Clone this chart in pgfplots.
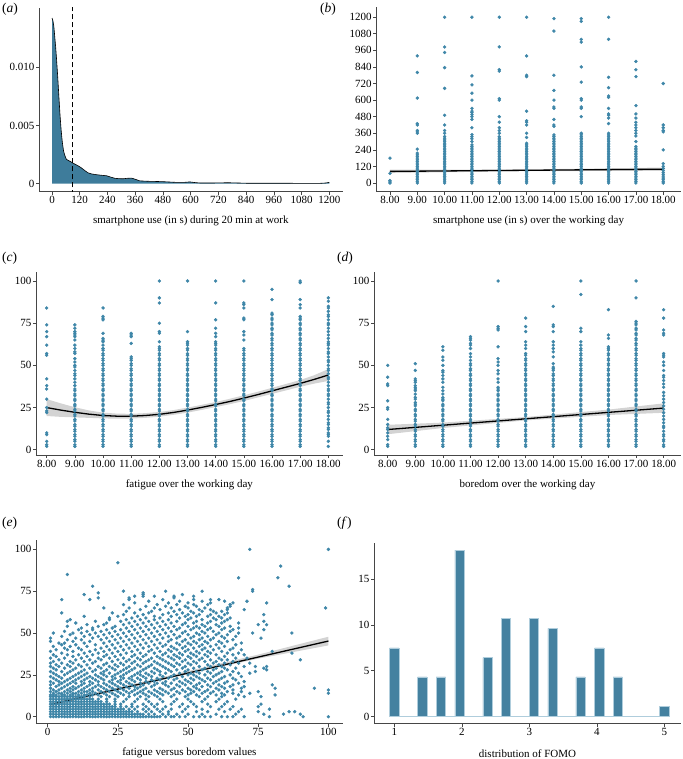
\documentclass[border=0pt]{standalone}
\usepackage{fontspec}
\setmainfont{Liberation Serif}
\usepackage{pgfplots}
\pgfplotsset{compat=1.18}

\definecolor{ptc}{RGB}{62,134,168}
\definecolor{densc}{RGB}{62,124,155}
\definecolor{barc}{RGB}{68,129,160}
\definecolor{barl}{RGB}{175,205,220}
\definecolor{axc}{RGB}{70,70,70}

\pgfplotsset{
  panel/.style={
    scale only axis, anchor=south west,
    axis x line*=bottom, axis y line*=left,
    axis line style={-, axc, line width=0.8pt},
    tick align=outside, major tick length=3pt,
    tick style={axc, line width=0.6pt},
    tick label style={font=\fontsize{11}{13}\selectfont, inner sep=1.5pt},
    label style={font=\fontsize{11}{13}\selectfont},
    xlabel style={at={(axis description cs:0.5,0)}, anchor=center, yshift=-29.5pt},
    /pgf/number format/assume math mode=true,
    /pgf/number format/1000 sep={},
    scaled ticks=false,
  },
  pts/.style={only marks, mark=*, mark size=1.5pt, color=ptc, mark options={draw=none, fill=ptc}},
  band/.style={fill=gray, fill opacity=0.35, draw=none},
  fit/.style={black, line width=1.3pt, no marks},
}
\newcommand\colpts[2]{\addplot[pts] table[x expr=#1, y index=0, header=false, row sep=\\]{#2\\};}
\newcommand\rowpts[2]{\addplot[pts] table[y expr=#1, x index=0, header=false, row sep=\\]{#2\\};}

\begin{document}
\begin{tikzpicture}
\path[use as bounding box] (0,0) rectangle (682pt,-759pt);

% (a) density
\begin{axis}[panel, at={(39pt,-191.7pt)}, width=303.7pt, height=183.7pt,
  xmin=-56.3, xmax=1258, ymin=-0.00069, ymax=0.01509,
  xtick={0,120,...,1200}, ytick={0,0.005,0.01}, yticklabels={0,0.005,0.010},
  xlabel={smartphone use (in s) during 20 min at work}]
\addplot[fill=densc, draw=none] coordinates {(0,0.01423)(4,0.0140)(8,0.0135)(12,0.0126)(16,0.0117)(20,0.0106)(25,0.0091)(30,0.0074)(35,0.0058)(40,0.0045)(45,0.0035)(50,0.0028)(56,0.0024)(62,0.0021)(70,0.0020)(80,0.0019)(91,0.00176)(102,0.00165)(113,0.00153)(124,0.0014)(134,0.00125)(145,0.00108)(156,0.00093)(170,0.00084)(192,0.00077)(215,0.00072)(236,0.00068)(255,0.00056)(272,0.00046)(290,0.00043)(308,0.00042)(325,0.00046)(344,0.00048)(360,0.00038)(380,0.00024)(400,0.00022)(424,0.00020)(450,0.00019)(481,0.00017)(510,0.00014)(539,0.00011)(570,0.00011)(597,0.00015)(620,0.00009)(640,0.00006)(700,0.00006)(760,0.00008)(785,0.00007)(840,0.00004)(900,0.00004)(960,0.00004)(1020,0.00004)(1074,0.00002)(1120,0.00003)(1160,0.00003)(1185,0.00006)(1200,0.00011)} \closedcycle;
\addplot[black, line width=0.6pt] coordinates {(0,0.01423)(4,0.0140)(8,0.0135)(12,0.0126)(16,0.0117)(20,0.0106)(25,0.0091)(30,0.0074)(35,0.0058)(40,0.0045)(45,0.0035)(50,0.0028)(56,0.0024)(62,0.0021)(70,0.0020)(80,0.0019)(91,0.00176)(102,0.00165)(113,0.00153)(124,0.0014)(134,0.00125)(145,0.00108)(156,0.00093)(170,0.00084)(192,0.00077)(215,0.00072)(236,0.00068)(255,0.00056)(272,0.00046)(290,0.00043)(308,0.00042)(325,0.00046)(344,0.00048)(360,0.00038)(380,0.00024)(400,0.00022)(424,0.00020)(450,0.00019)(481,0.00017)(510,0.00014)(539,0.00011)(570,0.00011)(597,0.00015)(620,0.00009)(640,0.00006)(700,0.00006)(760,0.00008)(785,0.00007)(840,0.00004)(900,0.00004)(960,0.00004)(1020,0.00004)(1074,0.00002)(1120,0.00003)(1160,0.00003)(1185,0.00006)(1200,0.00011)};
\addplot[black, line width=1.3pt, dash pattern=on 5pt off 3pt] coordinates {(90,-0.001)(90,0.016)};
\end{axis}

% (b) smartphone use over the day
\begin{axis}[panel, at={(376.3pt,-191.7pt)}, width=304.7pt, height=184.7pt,
  xmin=7.5, xmax=18.65, ymin=-63, ymax=1274,
  xtick={8,...,18}, xticklabels={8.00,9.00,10.00,11.00,12.00,13.00,14.00,15.00,16.00,17.00,18.00},
  ytick={0,120,...,1200},
  xlabel={smartphone use (in s) over the working day}]
\colpts{8}{0\\8\\18\\70\\180}
\colpts{9}{0\\12\\24\\36\\48\\60\\72\\84\\96\\108\\120\\132\\144\\156\\168\\180\\192\\204\\216\\245\\360\\370\\380\\420\\430\\615\\800\\920}
\colpts{10}{0\\12\\24\\36\\48\\60\\72\\84\\96\\108\\120\\132\\144\\156\\168\\180\\192\\204\\216\\228\\240\\252\\264\\276\\288\\300\\312\\324\\336\\360\\380\\420\\490\\685\\835\\945\\985\\1200}
\colpts{11}{0\\12\\24\\36\\48\\60\\72\\84\\96\\108\\120\\132\\144\\156\\168\\180\\192\\204\\216\\228\\240\\252\\264\\276\\300\\320\\335\\350\\400\\460\\480\\495\\510\\520\\540\\600\\650\\710\\775\\1200}
\colpts{12}{0\\12\\24\\36\\48\\60\\72\\84\\96\\108\\120\\132\\144\\156\\168\\180\\192\\204\\216\\228\\240\\252\\264\\276\\288\\300\\312\\324\\336\\360\\380\\400\\440\\480\\600\\610\\810\\820\\985\\1200}
\colpts{13}{0\\12\\24\\36\\48\\60\\72\\84\\96\\108\\120\\132\\144\\156\\168\\180\\192\\204\\216\\228\\240\\252\\264\\276\\288\\330\\360\\420\\440\\450\\520\\770\\780\\920\\1200}
\colpts{14}{0\\12\\24\\36\\48\\60\\72\\84\\96\\108\\120\\132\\144\\156\\168\\180\\192\\204\\216\\228\\240\\252\\264\\276\\288\\300\\312\\324\\336\\348\\410\\420\\460\\540\\550\\600\\670\\780\\1100\\1190}
\colpts{15}{0\\12\\24\\36\\48\\60\\72\\84\\96\\108\\120\\132\\144\\156\\168\\180\\192\\204\\216\\228\\240\\252\\264\\276\\288\\300\\312\\324\\336\\348\\360\\480\\540\\550\\600\\610\\730\\840\\1020\\1040\\1170\\1190}
\colpts{16}{0\\12\\24\\36\\48\\60\\72\\84\\96\\108\\120\\132\\144\\156\\168\\180\\192\\204\\216\\228\\240\\252\\264\\276\\288\\300\\312\\324\\336\\348\\360\\430\\470\\490\\500\\540\\620\\630\\690\\765\\1040\\1200}
\colpts{17}{0\\12\\24\\36\\48\\60\\72\\84\\96\\108\\120\\132\\144\\156\\168\\180\\192\\204\\216\\228\\240\\252\\264\\300\\340\\360\\380\\400\\420\\440\\470\\500\\560\\770\\820\\880}
\colpts{18}{0\\12\\24\\36\\50\\62\\75\\90\\105\\120\\140\\240\\370\\380\\400\\420\\720}
\addplot[band] coordinates {(8,96)(13,98)(18,112)(18,88)(13,86)(8,72)};
\addplot[fit] coordinates {(8,84)(18,100)};
\end{axis}

% (c) fatigue over the day
\begin{axis}[panel, at={(36pt,-455pt)}, width=306.7pt, height=183.3pt,
  xmin=7.62, xmax=18.51, ymin=-3.1, ymax=105.5,
  xtick={8,...,18}, xticklabels={8.00,9.00,10.00,11.00,12.00,13.00,14.00,15.00,16.00,17.00,18.00},
  ytick={0,25,50,75,100},
  xlabel={fatigue over the working day}]
\colpts{8}{2\\3\\5\\9\\10\\22\\23\\25\\30\\36\\38\\42\\56\\57\\62\\67\\70\\74\\84}
\colpts{9}{2\\3\\5\\6\\8\\9\\11\\12\\14\\15\\17\\18\\20\\21\\23\\24\\26\\27\\29\\30\\32\\33\\35\\36\\38\\40\\42\\44\\45\\47\\49\\50\\52\\54\\57\\58\\60\\62\\65\\67\\68\\69\\70\\72\\74}
\colpts{10}{2\\3\\5\\6\\8\\9\\11\\12\\14\\15\\17\\18\\20\\21\\23\\24\\26\\27\\29\\30\\32\\33\\35\\36\\38\\39\\41\\42\\44\\45\\47\\48\\50\\51\\53\\54\\56\\57\\59\\60\\62\\64\\65\\66\\69\\77\\78\\79\\84}
\colpts{11}{2\\3\\5\\6\\8\\9\\11\\12\\14\\15\\17\\18\\20\\21\\23\\24\\26\\27\\29\\30\\32\\33\\35\\36\\38\\39\\41\\42\\44\\45\\47\\48\\50\\51\\53\\54\\55\\63\\67\\68\\69}
\colpts{12}{2\\3\\5\\6\\8\\9\\11\\12\\14\\15\\17\\18\\20\\21\\23\\24\\26\\27\\29\\30\\32\\33\\35\\36\\38\\39\\41\\42\\44\\45\\47\\48\\50\\51\\53\\54\\56\\57\\59\\60\\61\\64\\69\\70\\75\\87\\90\\100}
\colpts{13}{2\\3\\5\\6\\8\\9\\11\\12\\14\\15\\17\\18\\20\\21\\23\\24\\26\\27\\29\\30\\32\\33\\35\\36\\38\\39\\41\\42\\44\\45\\47\\48\\50\\51\\53\\54\\56\\57\\59\\60\\62\\63\\64\\70\\100}
\colpts{14}{2\\3\\5\\6\\8\\9\\11\\12\\14\\15\\17\\18\\20\\21\\23\\24\\26\\27\\29\\30\\32\\33\\35\\36\\38\\39\\41\\42\\44\\45\\47\\48\\50\\51\\53\\54\\56\\57\\59\\60\\62\\63\\64\\67\\69\\72\\77\\87\\100}
\colpts{15}{2\\3\\5\\6\\8\\9\\11\\12\\14\\15\\17\\18\\20\\21\\23\\24\\26\\27\\29\\30\\32\\33\\35\\36\\38\\39\\41\\42\\44\\45\\47\\48\\50\\51\\53\\54\\56\\57\\59\\60\\65\\68\\70\\77\\78\\84\\86\\87\\100}
\colpts{16}{2\\3\\5\\6\\8\\9\\11\\12\\14\\15\\17\\18\\20\\21\\23\\24\\26\\27\\29\\30\\32\\33\\35\\36\\38\\39\\41\\42\\44\\45\\47\\48\\50\\51\\53\\54\\56\\57\\59\\60\\62\\63\\65\\66\\68\\69\\71\\72\\74\\75\\77\\78\\80\\81\\89\\95}
\colpts{17}{2\\3\\5\\6\\8\\9\\11\\12\\14\\15\\17\\18\\20\\21\\23\\24\\26\\27\\29\\30\\32\\33\\35\\36\\38\\39\\41\\42\\44\\45\\47\\48\\50\\51\\53\\54\\56\\57\\59\\60\\62\\63\\65\\66\\68\\69\\71\\72\\74\\75\\77\\78\\79\\84\\86\\89\\99\\100}
\colpts{18}{2\\5\\8\\9\\10\\12\\13\\15\\16\\18\\20\\22\\23\\25\\27\\28\\30\\32\\33\\35\\36\\38\\40\\42\\43\\45\\47\\48\\50\\52\\53\\55\\57\\58\\60\\62\\63\\64\\66\\68\\70\\72\\74\\75\\77\\79\\80\\82\\84\\85\\88\\90}
\addplot[band] coordinates {(8,30)(8.5,27.5)(9,25.2)(9.5,23.3)(10,22)(10.5,21.4)(11,21.3)(11.5,21.7)(12,22.4)(12.5,23.5)(13,25)(13.5,26.6)(14,28.3)(14.5,30.2)(15,32.3)(15.5,34.4)(16,36.7)(16.5,39)(17,41.3)(17.5,44.2)(18,47.8)(18,40.8)(17.5,39.2)(17,37.3)(16.5,35.2)(16,33.1)(15.5,31)(15,28.9)(14.5,27)(14,25.3)(13.5,23.6)(13,22)(12.5,20.7)(12,19.6)(11.5,18.9)(11,18.5)(10.5,18.4)(10,18.6)(9.5,18.9)(9,19.2)(8.5,19.5)(8,20)};
\addplot[fit] coordinates {(8,25)(8.5,23.5)(9,22.2)(9.5,21.1)(10,20.3)(10.5,19.9)(11,19.9)(11.5,20.3)(12,21)(12.5,22.1)(13,23.5)(13.5,25.1)(14,26.8)(14.5,28.6)(15,30.6)(15.5,32.7)(16,34.9)(16.5,37.1)(17,39.3)(17.5,41.7)(18,44.3)};
\end{axis}

% (d) boredom over the day
\begin{axis}[panel, at={(374pt,-455pt)}, width=307pt, height=183.3pt,
  xmin=7.504, xmax=18.63, ymin=-3.1, ymax=105.5,
  xtick={8,...,18}, xticklabels={8.00,9.00,10.00,11.00,12.00,13.00,14.00,15.00,16.00,17.00,18.00},
  ytick={0,25,50,75,100},
  xlabel={boredom over the working day}]
\colpts{8}{2\\3\\6\\8\\10\\12\\13\\15\\18\\24\\25\\29\\38\\39\\43\\50}
\colpts{9}{2\\3\\5\\6\\8\\9\\11\\12\\14\\15\\17\\18\\20\\21\\23\\24\\26\\27\\28\\30\\31\\33\\35\\36\\37\\38\\40\\41\\42\\47\\51}
\colpts{10}{2\\3\\5\\6\\8\\9\\11\\12\\14\\15\\17\\18\\20\\21\\23\\24\\26\\27\\29\\30\\31\\33\\35\\37\\40\\42\\44\\46\\47\\50\\53\\55\\59\\61}
\colpts{11}{2\\3\\5\\6\\8\\9\\11\\12\\14\\15\\17\\18\\20\\21\\23\\24\\26\\27\\29\\30\\32\\33\\35\\36\\38\\39\\41\\42\\44\\45\\47\\48\\50\\51\\53\\55\\57\\60\\62\\63\\65\\66\\67}
\colpts{12}{2\\3\\5\\6\\8\\9\\11\\12\\14\\15\\17\\18\\20\\21\\23\\24\\26\\27\\29\\30\\32\\33\\35\\36\\37\\40\\42\\45\\47\\50\\52\\54\\61\\71\\72\\73\\100}
\colpts{13}{2\\3\\5\\6\\8\\9\\11\\12\\14\\15\\17\\18\\20\\21\\23\\24\\26\\27\\29\\30\\32\\33\\35\\36\\38\\39\\41\\42\\44\\45\\47\\48\\50\\51\\53\\54\\56\\57\\60\\62\\64\\70\\73\\78}
\colpts{14}{2\\3\\5\\6\\8\\9\\11\\12\\14\\15\\17\\18\\20\\21\\23\\24\\26\\27\\29\\30\\32\\33\\35\\36\\38\\39\\41\\42\\44\\45\\47\\48\\49\\51\\55\\58\\60\\62\\64\\70\\73\\74\\85}
\colpts{15}{2\\3\\5\\6\\8\\9\\11\\12\\14\\15\\17\\18\\20\\21\\23\\24\\26\\27\\29\\30\\32\\33\\35\\36\\38\\39\\41\\42\\44\\45\\47\\48\\50\\51\\53\\54\\56\\57\\59\\60\\62\\64\\70\\72\\92\\100}
\colpts{16}{2\\3\\5\\6\\8\\9\\11\\12\\14\\15\\17\\18\\20\\21\\23\\24\\26\\27\\29\\30\\32\\33\\35\\36\\38\\39\\41\\42\\44\\45\\47\\48\\50\\51\\53\\54\\56\\57\\59\\60\\61\\66\\68\\83}
\colpts{17}{2\\3\\5\\6\\8\\9\\11\\12\\14\\15\\17\\18\\20\\21\\23\\24\\26\\27\\29\\30\\32\\33\\35\\36\\38\\39\\41\\42\\44\\45\\47\\48\\50\\51\\53\\54\\56\\57\\59\\60\\62\\63\\65\\66\\68\\69\\71\\72\\74\\75\\76\\90\\100}
\colpts{18}{2\\3\\5\\6\\8\\9\\11\\13\\14\\16\\18\\20\\22\\24\\26\\28\\30\\32\\34\\37\\39\\41\\43\\44\\47\\50\\52\\55\\56\\57\\68\\69\\71\\78\\83}
\addplot[band] coordinates {(8,14.8)(10,16.1)(13,19.4)(16,23.8)(18,27.5)(18,21.9)(16,20.6)(13,17.4)(10,12.9)(8,9.2)};
\addplot[fit] coordinates {(8,12)(18,24.7)};
\end{axis}

% (e) fatigue versus boredom
\begin{axis}[panel, at={(36pt,-723.7pt)}, width=306.7pt, height=183.7pt,
  xmin=-4.17, xmax=105.1, ymin=-4.19, ymax=105.6,
  xtick={0,25,50,75,100}, ytick={0,25,50,75,100},
  xlabel={fatigue versus boredom values}]
\rowpts{0}{1\\2\\3\\4\\5\\6\\7\\8\\9\\10\\11\\12\\13\\14\\15\\16\\17\\18\\19\\20\\21\\22\\23\\24\\25\\26\\27\\28\\29\\30\\31\\32\\33\\34\\35\\36\\37\\38\\39\\40\\42\\44\\45\\47\\49\\52\\54\\56\\58\\62\\64\\66\\70\\79\\91\\100}
\rowpts{1.5}{1\\2\\3\\4\\5\\6\\7\\8\\9\\10\\11\\12\\13\\14\\15\\16\\17\\18\\19\\20\\21\\22\\23\\24\\25\\26\\27\\28\\29\\30\\31\\32\\33\\34\\36\\38\\41\\43\\46\\50\\55\\60\\67\\77\\84\\90}
\rowpts{3}{1\\2\\3\\4\\5\\6\\7\\8\\9\\10\\11\\12\\13\\14\\15\\16\\17\\18\\19\\20\\21\\22\\23\\24\\25\\26\\27\\28\\29\\30\\32\\35\\37\\40\\43\\48\\53\\57\\63\\68\\75\\86\\88}
\rowpts{4.5}{1\\2\\3\\4\\5\\6\\7\\8\\9\\10\\11\\12\\13\\14\\15\\16\\17\\18\\19\\20\\21\\22\\23\\24\\25\\26\\27\\29\\31\\34\\36\\39\\41\\44\\49\\55\\61\\65\\69\\79}
\rowpts{6}{1\\2\\3\\4\\5\\6\\7\\8\\9\\10\\11\\12\\13\\14\\15\\16\\17\\18\\19\\20\\21\\22\\23\\24\\26\\28\\30\\32\\35\\38\\42\\47\\50\\53\\58\\62\\66\\75}
\rowpts{7.5}{1\\2\\3\\4\\5\\6\\7\\8\\9\\10\\11\\12\\13\\14\\15\\16\\17\\18\\19\\20\\21\\22\\24\\26\\30\\34\\37\\39\\44\\48\\52\\57\\63\\76}
\rowpts{9}{1\\2\\3\\4\\5\\6\\7\\8\\9\\10\\11\\12\\13\\14\\15\\16\\17\\18\\19\\21\\24\\27\\31\\36\\41\\45\\51\\55\\60\\64}
\rowpts{10.5}{1\\2\\3\\4\\5\\6\\7\\8\\9\\10\\11\\12\\13\\14\\15\\16\\18\\21\\24\\28\\32\\35\\40\\46\\50\\56\\61\\67}
\rowpts{12}{1\\2\\3\\4\\5\\6\\7\\8\\9\\10\\11\\12\\13\\15\\19\\22\\25\\29\\33\\36\\39\\44\\49\\54\\57\\62\\70\\76}
\rowpts{13}{1\\2\\3\\5\\6\\8\\9\\11\\13\\14\\16\\18\\21\\24\\27\\31\\35\\38\\41\\45\\50\\53\\60\\63\\68\\81}
\rowpts{14}{2\\4\\5\\7\\9\\10\\12\\15\\17\\20\\23\\26\\29\\32\\34\\37\\40\\43\\47\\51\\55\\58\\62\\66\\72\\100}
\rowpts{15}{1\\3\\6\\8\\11\\13\\14\\16\\19\\22\\25\\28\\30\\33\\36\\39\\42\\46\\49\\52\\56\\59\\64\\69\\75}
\rowpts{16}{2\\4\\7\\9\\12\\15\\18\\21\\24\\27\\31\\34\\38\\41\\44\\48\\51\\54\\57\\61\\66\\100}
\rowpts{17}{1\\5\\8\\10\\13\\16\\20\\23\\26\\29\\32\\35\\40\\45\\50\\53\\60\\63\\69\\81\\95}
\rowpts{18}{3\\6\\9\\11\\14\\17\\19\\22\\25\\28\\31\\33\\37\\43\\47\\52\\55\\58\\62\\65\\70}
\rowpts{19}{1\\4\\7\\12\\15\\18\\21\\24\\27\\30\\34\\38\\42\\46\\49\\53\\57\\61\\66\\80}
\rowpts{20}{2\\5\\8\\10\\13\\16\\20\\23\\26\\29\\33\\36\\39\\41\\44\\48\\51\\54\\59\\63\\68}
\rowpts{21}{1\\4\\6\\9\\12\\15\\18\\22\\25\\28\\31\\35\\38\\42\\47\\50\\56\\60\\64\\70}
\rowpts{22}{3\\7\\10\\13\\17\\20\\23\\26\\30\\33\\37\\40\\45\\49\\52\\55\\58\\61\\67}
\rowpts{23}{2\\5\\8\\11\\14\\16\\19\\24\\27\\29\\32\\35\\39\\43\\46\\51\\54\\57\\62\\66}
\rowpts{24}{1\\4\\9\\12\\15\\18\\21\\23\\26\\30\\34\\37\\41\\44\\48\\53\\59\\63\\69}
\rowpts{25}{3\\6\\10\\13\\17\\20\\24\\27\\31\\33\\36\\40\\45\\50\\52\\56\\60\\65}
\rowpts{26}{2\\7\\11\\14\\19\\22\\25\\28\\32\\35\\38\\42\\47\\51\\54\\58\\61\\68\\72}
\rowpts{27}{1\\5\\8\\12\\16\\20\\26\\29\\33\\37\\40\\44\\49\\53\\57\\62\\66\\74}
\rowpts{28}{3\\9\\13\\17\\21\\24\\27\\30\\34\\39\\43\\46\\50\\55\\59\\64\\78}
\rowpts{29}{2\\6\\10\\15\\19\\23\\28\\31\\35\\38\\42\\48\\52\\56\\60\\63\\67\\77}
\rowpts{30}{1\\4\\8\\12\\18\\22\\25\\29\\33\\36\\41\\45\\49\\54\\58\\62\\70\\74\\78}
\rowpts{31}{3\\7\\11\\14\\20\\24\\27\\32\\37\\40\\44\\47\\51\\57\\61\\65}
\rowpts{32}{1\\5\\9\\16\\21\\26\\30\\34\\39\\43\\46\\50\\53\\59\\63\\68\\72}
\rowpts{33}{2\\8\\13\\17\\23\\28\\31\\35\\38\\42\\48\\52\\56\\60\\66}
\rowpts{34}{4\\10\\15\\19\\25\\29\\33\\36\\41\\45\\49\\54\\58\\62\\64\\90}
\rowpts{35}{1\\6\\12\\18\\22\\27\\32\\37\\40\\44\\47\\51\\55\\61\\67\\71}
\rowpts{36}{3\\9\\14\\20\\24\\30\\34\\39\\43\\46\\50\\53\\57\\63}
\rowpts{37}{2\\7\\11\\16\\21\\26\\31\\35\\41\\45\\48\\52\\56\\60\\66\\70}
\rowpts{38}{5\\13\\18\\23\\28\\33\\38\\42\\47\\51\\54\\58\\64\\68\\87}
\rowpts{39}{1\\9\\15\\20\\25\\30\\36\\40\\44\\49\\53\\57\\62\\80}
\rowpts{40}{3\\7\\12\\17\\22\\27\\32\\37\\43\\46\\50\\55\\59\\65\\69}
\rowpts{41}{6\\11\\19\\24\\29\\34\\39\\45\\48\\52\\56\\61\\66}
\rowpts{42}{2\\8\\14\\21\\26\\31\\36\\41\\44\\49\\54\\58\\63}
\rowpts{43}{5\\10\\17\\23\\28\\33\\38\\42\\47\\51\\55\\60\\67}
\rowpts{44}{4\\6\\13\\20\\25\\30\\35\\40\\46\\50\\53\\57\\62\\69}
\rowpts{45}{1\\9\\15\\22\\27\\32\\37\\43\\48\\52\\56\\61\\64}
\rowpts{46}{7\\12\\19\\24\\29\\34\\39\\44\\49\\54\\58\\66}
\rowpts{47}{1\\10\\16\\21\\26\\31\\36\\41\\46\\51\\55\\59\\63\\76}
\rowpts{48}{5\\13\\18\\23\\28\\33\\38\\43\\47\\52\\57\\62\\67}
\rowpts{49}{8\\15\\20\\25\\30\\35\\40\\45\\50\\54\\60\\64}
\rowpts{50}{2\\9\\12\\17\\22\\27\\32\\37\\42\\48\\53\\56\\61\\68\\73\\87}
\rowpts{51}{6\\14\\19\\24\\29\\34\\39\\44\\49\\55\\59\\65}
\rowpts{52}{11\\16\\21\\26\\31\\36\\41\\46\\51\\57\\62\\66\\77}
\rowpts{53}{12\\16\\23\\28\\33\\38\\43\\47\\52\\54\\58\\63\\68}
\rowpts{54}{7\\18\\24\\30\\35\\40\\45\\50\\53\\56\\61\\65}
\rowpts{55}{14\\20\\27\\32\\37\\42\\48\\55\\60\\75\\78}
\rowpts{56}{10\\21\\29\\34\\39\\44\\49\\52\\57\\62\\68}
\rowpts{57}{7\\17\\26\\31\\36\\41\\46\\53\\58\\63\\77}
\rowpts{58}{8\\22\\28\\33\\38\\43\\50\\55\\60\\64}
\rowpts{59}{22\\30\\35\\40\\47\\51\\59\\62\\65}
\rowpts{60}{13\\25\\32\\38\\44\\49\\53\\57\\61}
\rowpts{61}{27\\34\\41\\46\\50\\54\\58\\63\\77}
\rowpts{62}{5\\23\\31\\36\\43\\48\\52\\60\\64}
\rowpts{63}{28\\37\\45\\51\\55\\59\\62}
\rowpts{64}{33\\40\\47\\54\\58\\64\\70}
\rowpts{65}{20\\29\\38\\44\\50\\56\\64\\99}
\rowpts{66}{35\\42\\49\\53\\65}
\rowpts{67}{27\\39\\46\\52\\57\\65}
\rowpts{68}{31\\43\\50\\58\\66\\78}
\rowpts{69}{36\\47\\55\\63\\71}
\rowpts{70}{5\\15\\29\\41\\52\\58\\61}
\rowpts{71}{18\\29\\45}
\rowpts{72}{31\\34\\38\\45\\52}
\rowpts{73}{13\\34\\48}
\rowpts{74}{18\\34}
\rowpts{75}{27\\42\\55\\73}
\rowpts{76}{73}
\rowpts{78}{16\\86}
\rowpts{83}{68\\82}
\rowpts{85}{7}
\rowpts{90}{83}
\rowpts{92}{25}
\rowpts{100}{72\\100}
\addplot[band] coordinates {(1,8.6)(25,17.4)(50,27.3)(75,37.1)(100,47.8)(100,42.6)(75,34.7)(50,25.5)(25,15.8)(1,6.0)};
\addplot[fit] coordinates {(1,7.3)(100,45.2)};
\end{axis}

% (f) FOMO histogram
\begin{axis}[panel, at={(374pt,-723.7pt)}, width=307pt, height=181pt,
  xmin=0.699, xmax=5.247, ymin=-0.8, ymax=19,
  xtick={1,2,3,4,5}, ytick={0,5,10,15},
  xlabel={distribution of FOMO}]
\addplot[ybar, bar width=0.1379, fill=barc, draw=barl, line width=0.5pt] coordinates {(1.0000,7.50)(1.1379,0)(1.2759,0)(1.4138,4.32)(1.5517,0)(1.6897,4.32)(1.8276,0)(1.9655,18.19)(2.1034,0)(2.2414,0)(2.3793,6.44)(2.5172,0)(2.6552,10.72)(2.7931,0)(2.9310,0)(3.0690,10.72)(3.2069,0)(3.3448,9.62)(3.4828,0)(3.6207,0)(3.7586,4.32)(3.8966,0)(4.0345,7.50)(4.1724,0)(4.3103,4.32)(4.4483,0)(4.5862,0)(4.7241,0)(4.8621,0)(5.0000,1.13)};
\end{axis}

\begin{scope}[every node/.style={inner sep=0pt, font=\fontsize{13.5}{15}\selectfont}]
\node[anchor=north west] at (2pt,-3pt) {(\textit{a})};
\node[anchor=north east] at (336pt,-3pt) {(\textit{b})};
\node[anchor=north west] at (2pt,-252pt) {(\textit{c})};
\node[anchor=north west] at (337pt,-252pt) {(\textit{d})};
\node[anchor=north west] at (2pt,-517pt) {(\textit{e})};
\node[anchor=north west] at (337pt,-517pt) {(\textit{f})};
\end{scope}
\end{tikzpicture}
\end{document}
